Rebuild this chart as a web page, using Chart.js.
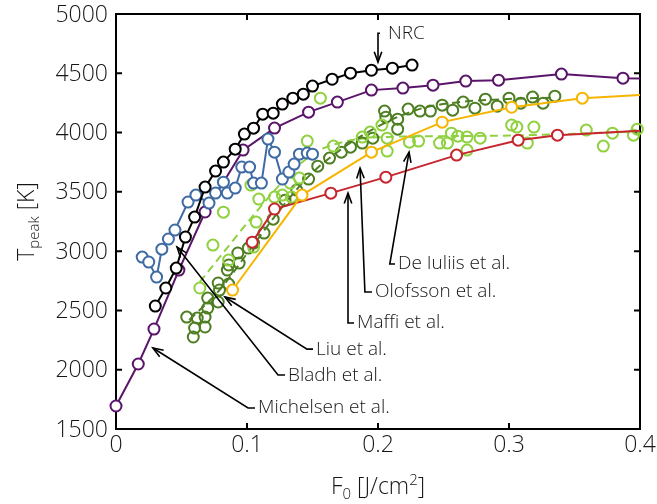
<!DOCTYPE html>
<html>
<head>
<meta charset="utf-8">
<script src="https://cdn.jsdelivr.net/npm/chart.js@4"></script>
<style>
  html, body { margin: 0; padding: 0; background: #fff; }
  #wrap { width: 657px; height: 504px; }
</style>
</head>
<body>
<div id="wrap"><canvas id="c" width="657" height="504"></canvas></div>
<script>
// axis ticks
const xTicks = [0, 0.1, 0.2, 0.3, 0.4];
const yTicks = [1500, 2000, 2500, 3000, 3500, 4000, 4500, 5000];

// NRC (black)
const nrcF = [0.030, 0.038, 0.046, 0.053, 0.060, 0.068, 0.076, 0.082, 0.091, 0.098, 0.105, 0.112, 0.120, 0.127, 0.135, 0.143, 0.150, 0.165, 0.179, 0.195, 0.211, 0.226];
const nrcT = [2537, 2689, 2857, 3119, 3287, 3540, 3675, 3751, 3860, 3987, 4037, 4155, 4164, 4240, 4290, 4324, 4392, 4450, 4501, 4526, 4543, 4569];

// Michelsen et al. (purple)
const michelsenF = [0, 0.017, 0.029, 0.048, 0.068, 0.097, 0.121, 0.147, 0.169, 0.195, 0.219, 0.242, 0.267, 0.292, 0.340, 0.387, 0.400];
const michelsenT = [1694, 2048, 2343, 2840, 3330, 3852, 4038, 4172, 4257, 4358, 4375, 4400, 4434, 4442, 4493, 4459, 4456];

// Liu et al. (blue)
const liuF = [0.020, 0.025, 0.031, 0.035, 0.040, 0.045, 0.055, 0.061, 0.071, 0.076, 0.082, 0.085, 0.091, 0.096, 0.102, 0.105, 0.111, 0.116, 0.121, 0.127, 0.132, 0.136, 0.140, 0.146, 0.150];
const liuT = [2950, 2908, 2781, 3017, 3102, 3178, 3414, 3473, 3405, 3490, 3582, 3490, 3532, 3709, 3709, 3574, 3574, 3945, 3835, 3608, 3667, 3734, 3818, 3827, 3818];

// Olofsson et al. (yellow)
const olofssonF = [0.089, 0.142, 0.195, 0.249, 0.302, 0.356, 0.400];
const olofssonT = [2672, 3473, 3835, 4088, 4214, 4290, 4316];

// Maffi et al. (red)
const maffiF = [0.104, 0.121, 0.164, 0.206, 0.260, 0.307, 0.337, 0.400];
const maffiT = [3076, 3355, 3489, 3624, 3810, 3936, 3978, 4015];

// Bladh et al. (dark green) measurements and dashed fit
const bladhF = [0.054, 0.062, 0.068, 0.060, 0.068, 0.059, 0.070, 0.070, 0.078, 0.078, 0.079, 0.086, 0.085, 0.086, 0.094, 0.093, 0.101, 0.105, 0.113, 0.120, 0.129, 0.138, 0.147, 0.154, 0.163, 0.172, 0.179, 0.188, 0.196, 0.205, 0.206, 0.215, 0.215, 0.223, 0.232, 0.240, 0.249, 0.257, 0.265, 0.274, 0.282, 0.291, 0.300, 0.309, 0.318, 0.326, 0.335];
const bladhT = [2444, 2436, 2444, 2351, 2360, 2276, 2520, 2604, 2571, 2731, 2672, 2722, 2840, 2883, 2899, 2984, 3026, 3068, 3152, 3270, 3430, 3515, 3608, 3717, 3785, 3835, 3877, 3911, 3953, 4181, 4130, 4113, 4029, 4198, 4181, 4181, 4231, 4189, 4257, 4206, 4282, 4223, 4290, 4248, 4299, 4248, 4307];
const bladhFitF = [0.056, 0.079, 0.102, 0.125, 0.148, 0.171, 0.202, 0.232, 0.263, 0.293, 0.335];
const bladhFitT = [2420, 2672, 3009, 3346, 3641, 3852, 4063, 4200, 4258, 4280, 4295];

// De Iuliis et al. (light green) measurements and dashed fit
const iuliisF = [0.064, 0.074, 0.082, 0.086, 0.103, 0.105, 0.107, 0.109, 0.121, 0.127, 0.133, 0.134, 0.140, 0.146, 0.156, 0.166, 0.188, 0.194, 0.203, 0.207, 0.207, 0.224, 0.231, 0.247, 0.253, 0.256, 0.261, 0.268, 0.268, 0.278, 0.302, 0.306, 0.314, 0.319, 0.359, 0.372, 0.379, 0.395, 0.398];
const iuliisT = [2689, 3051, 3329, 2925, 3557, 3034, 3245, 3439, 3456, 3473, 3574, 3456, 3616, 3928, 4290, 3886, 3962, 4004, 4063, 3953, 3844, 3919, 3928, 3911, 3911, 3995, 3970, 3962, 3852, 3953, 4063, 4046, 3911, 4046, 4021, 3886, 3995, 3978, 4029];
const iuliisFitF = [0.064, 0.085, 0.107, 0.125, 0.140, 0.155, 0.175, 0.200, 0.250, 0.300, 0.350, 0.400];
const iuliisFitT = [2740, 3030, 3330, 3560, 3730, 3850, 3925, 3960, 3970, 3975, 3990, 4010];

// annotation labels: text, anchor and leader path in data units
const notes = [
  { text: 'NRC', at: [0.2076, 4838], path: [[0.2015, 4838], [0.2000, 4838], [0.2000, 4594]] },
  { text: 'De Iuliis et al.', at: [0.2153, 2891], path: [[0.2130, 2891], [0.2090, 2891], [0.2237, 3835]] },
  { text: 'Olofsson et al.', at: [0.1977, 2655], path: [[0.1954, 2655], [0.1900, 2655], [0.1863, 3700]] },
  { text: 'Maffi et al.', at: [0.1840, 2394], path: [[0.1817, 2394], [0.1771, 2394], [0.1771, 3489]] },
  { text: 'Liu et al.', at: [0.1527, 2166], path: [[0.1504, 2174], [0.1458, 2174], [0.0832, 2613]] },
  { text: 'Bladh et al.', at: [0.1313, 1947], path: [[0.1290, 1955], [0.1237, 1955], [0.0466, 3034]] },
  { text: 'Michelsen et al.', at: [0.1084, 1677], path: [[0.1061, 1677], [0.1008, 1677], [0.0282, 2183]] }
];

const pts = (f, t) => f.map((x, i) => ({ x: x, y: t[i] }));
const FONT = '"Open Sans", "DejaVu Sans", sans-serif';
const TEXT = '#161616';
const R = 5.5;

function lineSet(label, f, t, color) {
  return {
    label: label,
    data: pts(f, t),
    showLine: true,
    borderColor: color,
    borderWidth: 2,
    pointBorderColor: color,
    pointBackgroundColor: '#fff',
    pointBorderWidth: 2,
    pointRadius: ctx => (ctx.raw && ctx.raw.x >= 0.4 ? 0 : R),
    clip: false
  };
}

function scatterSet(label, f, t, color) {
  return {
    label: label,
    data: pts(f, t),
    showLine: false,
    pointBorderColor: color,
    pointBackgroundColor: 'rgba(0,0,0,0)',
    pointBorderWidth: 2,
    pointRadius: R,
    clip: false
  };
}

function fitSet(label, f, t, color) {
  return {
    label: label,
    data: pts(f, t),
    showLine: true,
    borderColor: color,
    borderWidth: 2,
    borderDash: [8, 5],
    pointRadius: 0,
    tension: 0.4,
    cubicInterpolationMode: 'monotone'
  };
}

function drawArrow(ctx, p) {
  ctx.beginPath();
  ctx.moveTo(p[0][0], p[0][1]);
  for (let i = 1; i < p.length; i++) ctx.lineTo(p[i][0], p[i][1]);
  ctx.stroke();
  const a = p[p.length - 1], b = p[p.length - 2];
  const ang = Math.atan2(a[1] - b[1], a[0] - b[0]);
  const len = 11, spread = 0.35;
  ctx.beginPath();
  ctx.moveTo(a[0] - len * Math.cos(ang - spread), a[1] - len * Math.sin(ang - spread));
  ctx.lineTo(a[0], a[1]);
  ctx.lineTo(a[0] - len * Math.cos(ang + spread), a[1] - len * Math.sin(ang + spread));
  ctx.stroke();
}

const axesPlugin = {
  id: 'axesPlugin',
  beforeDatasetsDraw(chart) {
    const ctx = chart.ctx, a = chart.chartArea;
    const xs = chart.scales.x, ys = chart.scales.y;
    ctx.save();
    ctx.strokeStyle = '#000';
    ctx.lineWidth = 2;
    ctx.strokeRect(a.left, a.top, a.right - a.left, a.bottom - a.top);
    ctx.beginPath();
    xTicks.slice(1, -1).forEach(v => {
      const px = xs.getPixelForValue(v);
      ctx.moveTo(px, a.bottom); ctx.lineTo(px, a.bottom - 6);
      ctx.moveTo(px, a.top); ctx.lineTo(px, a.top + 6);
    });
    yTicks.slice(1, -1).forEach(v => {
      const py = ys.getPixelForValue(v);
      ctx.moveTo(a.left, py); ctx.lineTo(a.left + 6, py);
      ctx.moveTo(a.right, py); ctx.lineTo(a.right - 6, py);
    });
    ctx.stroke();
    ctx.restore();
  },
  afterDraw(chart) {
    const ctx = chart.ctx, a = chart.chartArea;
    const xs = chart.scales.x, ys = chart.scales.y;
    ctx.save();
    ctx.fillStyle = TEXT;
    ctx.font = '300 23px ' + FONT;
    ctx.textAlign = 'right';
    ctx.textBaseline = 'middle';
    yTicks.forEach(v => ctx.fillText(String(v), a.left - 8, ys.getPixelForValue(v) + 1));
    ctx.textAlign = 'center';
    ctx.textBaseline = 'top';
    xTicks.forEach(v => ctx.fillText(String(v), xs.getPixelForValue(v), a.bottom + 5));

    // x title: F0 [J/cm2]
    const big = '300 23px ' + FONT, small = '300 15px ' + FONT;
    const xParts = [['F', big, 0], ['0', small, 5], [' [J/cm', big, 0], ['2', small, -9], [']', big, 0]];
    let w = 0;
    xParts.forEach(p => { ctx.font = p[1]; w += ctx.measureText(p[0]).width; });
    let x = (a.left + a.right) / 2 - w / 2;
    ctx.textAlign = 'left';
    ctx.textBaseline = 'alphabetic';
    xParts.forEach(p => { ctx.font = p[1]; ctx.fillText(p[0], x, 494 + p[2]); x += ctx.measureText(p[0]).width; });

    // y title: Tpeak [K]
    const yParts = [['T', big, 0], ['peak', small, 5], [' [K]', big, 0]];
    w = 0;
    yParts.forEach(p => { ctx.font = p[1]; w += ctx.measureText(p[0]).width; });
    ctx.translate(34, (a.top + a.bottom) / 2);
    ctx.rotate(-Math.PI / 2);
    x = -w / 2;
    yParts.forEach(p => { ctx.font = p[1]; ctx.fillText(p[0], x, p[2]); x += ctx.measureText(p[0]).width; });
    ctx.restore();

    // annotations
    ctx.save();
    ctx.strokeStyle = '#000';
    ctx.lineWidth = 1.6;
    ctx.fillStyle = TEXT;
    ctx.font = '300 19px ' + FONT;
    ctx.textAlign = 'left';
    ctx.textBaseline = 'middle';
    notes.forEach(n => {
      const p = n.path.map(q => [xs.getPixelForValue(q[0]), ys.getPixelForValue(q[1])]);
      drawArrow(ctx, p);
      ctx.fillText(n.text, xs.getPixelForValue(n.at[0]), ys.getPixelForValue(n.at[1]));
    });
    ctx.restore();
  }
};

new Chart(document.getElementById('c'), {
  type: 'scatter',
  data: {
    datasets: [
      lineSet('NRC', nrcF, nrcT, '#000000'),
      lineSet('Liu et al.', liuF, liuT, '#3f6ba5'),
      lineSet('Michelsen et al.', michelsenF, michelsenT, '#5a1469'),
      lineSet('Olofsson et al.', olofssonF, olofssonT, '#f6b500'),
      lineSet('Maffi et al.', maffiF, maffiT, '#c6262e'),
      scatterSet('De Iuliis et al.', iuliisF, iuliisT, '#8fd13f'),
      scatterSet('Bladh et al.', bladhF, bladhT, '#4e7e22'),
      fitSet('De Iuliis fit', iuliisFitF, iuliisFitT, '#8fd13f'),
      fitSet('Bladh fit', bladhFitF, bladhFitT, '#4e7e22')
    ]
  },
  options: {
    responsive: false,
    animation: false,
    layout: { padding: { left: 116, right: 17, top: 14, bottom: 75 } },
    scales: {
      x: { type: 'linear', min: 0, max: 0.4, display: false },
      y: { type: 'linear', min: 1500, max: 5000, display: false }
    },
    plugins: {
      legend: { display: false },
      tooltip: { enabled: false }
    }
  },
  plugins: [axesPlugin]
});
</script>
</body>
</html>
